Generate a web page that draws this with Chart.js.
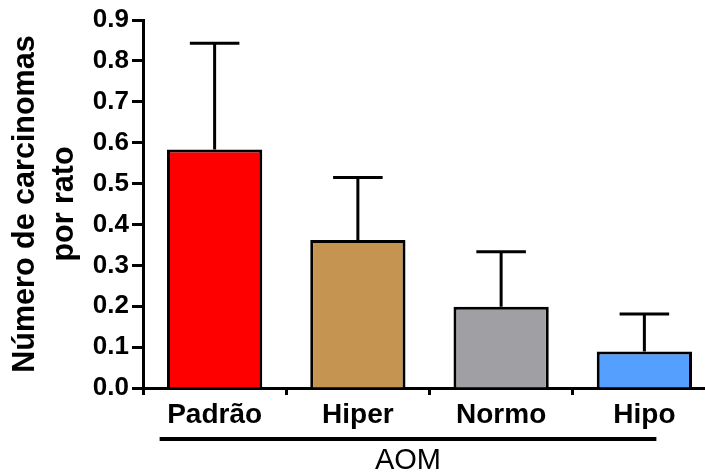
<!DOCTYPE html>
<html>
<head>
<meta charset="utf-8">
<script src="https://cdn.jsdelivr.net/npm/chart.js@4/dist/chart.umd.min.js"></script>
<style>
  html, body { margin: 0; padding: 0; background: #fff; overflow: hidden; }
  #wrap { width: 705px; height: 474px; overflow: hidden; position: relative; }
  canvas { display: block; }
</style>
</head>
<body>
<div id="wrap"><canvas id="c" width="716" height="474"></canvas></div>
<script>
// Carcinomas per rat by diet group (mean + SEM)
const categories = ['Padrão', 'Hiper', 'Normo', 'Hipo'];
const means = [0.583, 0.362, 0.199, 0.089];
const sems = [0.260, 0.153, 0.134, 0.092];
const barColors = ['#FF0000', '#C49450', '#A09FA4', '#55A0FF'];
const yTickValues = [0, 0.1, 0.2, 0.3, 0.4, 0.5, 0.6, 0.7, 0.8, 0.9];
const groupLabel = 'AOM';
const yTitle = ['Número de carcinomas', 'por rato'];

const FONT = "'Liberation Sans', Arial, Helvetica, sans-serif";

// Upper SEM whiskers with a flat cap
const errorBars = {
  id: 'errorBars',
  afterDatasetsDraw(chart) {
    const meta = chart.getDatasetMeta(0);
    const y = chart.scales.y;
    const ctx = chart.ctx;
    ctx.save();
    ctx.strokeStyle = '#000';
    ctx.lineWidth = 3;
    ctx.lineCap = 'butt';
    meta.data.forEach((bar, i) => {
      const yBar = y.getPixelForValue(means[i]);
      const yTop = y.getPixelForValue(means[i] + sems[i]);
      const half = bar.width * 0.26;
      ctx.beginPath();
      ctx.moveTo(bar.x, yBar);
      ctx.lineTo(bar.x, yTop);
      ctx.moveTo(bar.x - half, yTop);
      ctx.lineTo(bar.x + half, yTop);
      ctx.stroke();
    });
    ctx.restore();
  }
};

// Group bracket under the category labels, with its caption
const groupBracket = {
  id: 'groupBracket',
  afterDraw(chart) {
    const x = chart.scales.x;
    const ctx = chart.ctx;
    const left = x.getPixelForValue(0) - 55;
    const right = x.getPixelForValue(categories.length - 1) + 12;
    const yLine = x.bottom - 35;
    ctx.save();
    ctx.strokeStyle = '#000';
    ctx.lineWidth = 4;
    ctx.beginPath();
    ctx.moveTo(left, yLine);
    ctx.lineTo(right, yLine);
    ctx.stroke();
    ctx.fillStyle = '#000';
    ctx.font = '29px ' + FONT;
    ctx.textAlign = 'center';
    ctx.textBaseline = 'alphabetic';
    ctx.fillText(groupLabel, (left + right) / 2, yLine + 30);
    ctx.restore();
  }
};

new Chart(document.getElementById('c'), {
  type: 'bar',
  data: {
    labels: categories,
    datasets: [{
      data: means,
      backgroundColor: barColors,
      borderColor: '#000',
      borderWidth: 3,
      barPercentage: 0.665,
      categoryPercentage: 1.0
    }]
  },
  options: {
    responsive: false,
    animation: false,
    devicePixelRatio: 1,
    layout: { padding: { top: 20, left: 0, right: 0, bottom: 0 } },
    plugins: {
      legend: { display: false },
      tooltip: { enabled: false }
    },
    scales: {
      x: {
        border: { display: true, color: '#000', width: 3 },
        grid: { display: true, drawOnChartArea: false, drawTicks: true, tickLength: 7, tickWidth: 3, tickColor: '#000' },
        ticks: { color: '#000', font: { family: FONT, size: 28, weight: 'bold' }, padding: 3 },
        afterFit(scale) { scale.height = 86; }
      },
      y: {
        min: 0,
        max: 0.9,
        afterBuildTicks(scale) { scale.ticks = yTickValues.map(v => ({ value: v })); },
        border: { display: true, color: '#000', width: 3 },
        grid: { display: true, drawOnChartArea: false, drawTicks: true, tickLength: 11, tickWidth: 3, tickColor: '#000' },
        ticks: {
          color: '#000',
          font: { family: FONT, size: 26, weight: 'bold' },
          padding: 3,
          callback: (v) => Number(v).toFixed(1)
        },
        title: {
          display: true,
          text: yTitle,
          color: '#000',
          font: { family: FONT, size: 30.5, weight: 'bold', lineHeight: 1.25 },
          padding: { top: 7, bottom: 0 }
        },
        afterFit(scale) { scale.width = 143; }
      }
    }
  },
  plugins: [errorBars, groupBracket]
});
</script>
</body>
</html>
